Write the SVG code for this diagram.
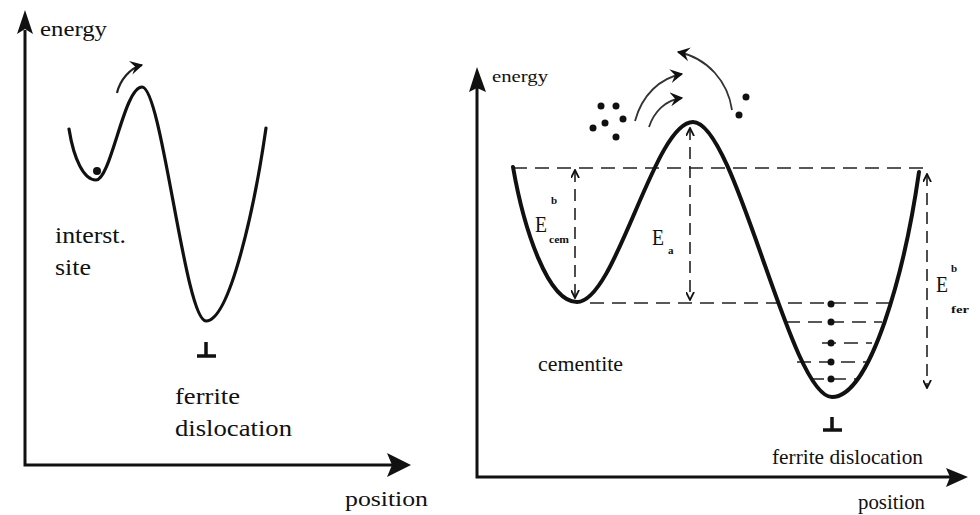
<svg xmlns="http://www.w3.org/2000/svg" width="980" height="515" viewBox="0 0 980 515">
<style>
.t{font-family:Liberation Serif, DejaVu Serif, serif;fill:#111}
.axis{stroke:#111;stroke-width:3;fill:none}
.head{fill:#111}
.curveL{stroke:#111;stroke-width:3.2;fill:none;stroke-linecap:round}
.curveR{stroke:#111;stroke-width:4;fill:none;stroke-linecap:round}
.dash{stroke:#222;stroke-width:1.6;fill:none;stroke-dasharray:14 8}
.dashv{stroke:#222;stroke-width:1.6;fill:none;stroke-dasharray:12 7;marker-start:url(#vee);marker-end:url(#vee)}
.jump{stroke:#333;stroke-width:1.8;fill:none;marker-end:url(#chev)}
.dot{fill:#111}
</style>
<defs>
<marker id="vee" viewBox="0 0 10 10" refX="9" refY="5" markerWidth="9" markerHeight="9" markerUnits="userSpaceOnUse" orient="auto-start-reverse">
<path d="M0,0.5 L9,5 L0,9.5" fill="none" stroke="#111" stroke-width="2"/>
</marker>
<marker id="chev" viewBox="0 0 12 12" refX="10" refY="6" markerWidth="14" markerHeight="14" markerUnits="userSpaceOnUse" orient="auto">
<path d="M0,0 L11,6 L0,12 L4,6 z" fill="#111"/>
</marker>
</defs>

<g id="left-panel">
<g id="left-axes">
<path class="axis" d="M25,30 V465 H392"/>
<polygon class="head" points="25,10 17,34 25,29 33,34"/>
<polygon class="head" points="411,465 387,453 392,465 387,477"/>
<text class="t" font-family="Liberation Serif, serif" x="40" y="36" font-size="22" textLength="67" lengthAdjust="spacingAndGlyphs">energy</text>
<text class="t" font-family="Liberation Serif, serif" x="345" y="506" font-size="22" textLength="83" lengthAdjust="spacingAndGlyphs">position</text>
</g>
<g id="left-curve">
<path class="curveL" d="M69,129 C74,160 84,180 96,180 C111,180 124,87 142,87 C162,87 185,321 206,321 C230,321 255,205 266,128"/>
<circle class="dot" cx="97" cy="171" r="4"/>
</g>
<g id="left-jump">
<path d="M117,93 C120,80 130,68 142,65" stroke="#222" stroke-width="2.2" fill="none" marker-end="url(#chev)"/>
</g>
<g id="left-labels">
<text class="t" font-family="Liberation Serif, serif" x="55" y="243" font-size="24" textLength="71" lengthAdjust="spacingAndGlyphs">interst.</text>
<text class="t" font-family="Liberation Serif, serif" x="55" y="275" font-size="24" textLength="36" lengthAdjust="spacingAndGlyphs">site</text>
<g id="left-dislocation">
<path d="M206,342 V356 M197,356 H216" stroke="#111" stroke-width="3.5" fill="none"/>
</g>
<text class="t" font-family="Liberation Serif, serif" x="175" y="404" font-size="24" textLength="65" lengthAdjust="spacingAndGlyphs">ferrite</text>
<text class="t" font-family="Liberation Serif, serif" x="175" y="436" font-size="24" textLength="117" lengthAdjust="spacingAndGlyphs">dislocation</text>
</g>
</g>

<g id="right-panel">
<g id="right-axes">
<path class="axis" d="M477,88 V477 H950"/>
<polygon class="head" points="477,67 469,92 477,88 486,92"/>
<polygon class="head" points="968,477 946,468 950,477 946,487"/>
<text class="t" font-family="Liberation Serif, serif" x="492" y="82" font-size="17" textLength="56" lengthAdjust="spacingAndGlyphs">energy</text>
<text class="t" font-family="Liberation Serif, serif" x="858" y="509" font-size="21" textLength="67" lengthAdjust="spacingAndGlyphs">position</text>
</g>
<g id="connectors">
<path class="dash" d="M513,168 H930"/>
<path class="dash" d="M590,303 H893"/>
<path class="dash" d="M786,322 H882"/>
<path class="dash" d="M822,343 H872"/>
<path class="dash" d="M797,362 H866"/>
<path class="dash" d="M810,379 H857"/>
<path class="dashv" d="M575,170 V298"/>
<path class="dashv" d="M690,128 V300"/>
<path class="dashv" d="M927,174 V388"/>
<path class="jump" d="M635,121 C642,95 660,78 682,74"/>
<path class="jump" d="M649,127 C654,112 665,100 682,98"/>
<path class="jump" d="M732,110 C728,82 708,58 678,52"/>
</g>
<g id="right-curve">
<path class="curveR" d="M513,167 C524,230 548,302 577,302 C616,302 654,122 693,122 C736,122 790,397 832,397 C871,397 905,270 919,172"/>
</g>
<g id="particles">
<circle class="dot" cx="601" cy="106" r="3.5"/>
<circle class="dot" cx="616" cy="106" r="3.5"/>
<circle class="dot" cx="605" cy="123" r="3.5"/>
<circle class="dot" cx="623" cy="119" r="3.5"/>
<circle class="dot" cx="593" cy="128" r="3.5"/>
<circle class="dot" cx="616" cy="137" r="3.5"/>
<circle class="dot" cx="746" cy="97" r="3.5"/>
<circle class="dot" cx="739" cy="115" r="3.5"/>
<circle class="dot" cx="831" cy="304" r="3.5"/>
<circle class="dot" cx="831" cy="322" r="3.5"/>
<circle class="dot" cx="831" cy="343" r="3.5"/>
<circle class="dot" cx="831" cy="362" r="3.5"/>
<circle class="dot" cx="831" cy="379" r="3.5"/>
</g>
<g id="energy-labels">
<text class="t" font-family="Liberation Serif, serif" x="535" y="232" font-size="24" textLength="12" lengthAdjust="spacingAndGlyphs">E</text>
<text class="t" font-family="Liberation Serif, serif" x="551" y="204" font-size="11" font-weight="bold">b</text>
<text class="t" font-family="Liberation Serif, serif" x="549" y="243" font-size="10" font-weight="bold" textLength="20" lengthAdjust="spacingAndGlyphs">cem</text>
<text class="t" font-family="Liberation Serif, serif" x="652" y="245" font-size="24" textLength="12" lengthAdjust="spacingAndGlyphs">E</text>
<text class="t" font-family="Liberation Serif, serif" x="668" y="254" font-size="11" font-weight="bold">a</text>
<text class="t" font-family="Liberation Serif, serif" x="936" y="292" font-size="24" textLength="12" lengthAdjust="spacingAndGlyphs">E</text>
<text class="t" font-family="Liberation Serif, serif" x="951" y="272" font-size="11" font-weight="bold">b</text>
<text class="t" font-family="Liberation Serif, serif" x="951" y="313" font-size="10" font-weight="bold" textLength="18" lengthAdjust="spacingAndGlyphs">fer</text>
</g>
<g id="right-labels">
<text class="t" font-family="Liberation Serif, serif" x="538" y="371" font-size="20" textLength="85" lengthAdjust="spacingAndGlyphs">cementite</text>
<g id="right-dislocation">
<path d="M832,417 V430 M823,430 H842" stroke="#111" stroke-width="3.5" fill="none"/>
</g>
<text class="t" font-family="Liberation Serif, serif" x="772" y="464" font-size="21" textLength="151" lengthAdjust="spacingAndGlyphs">ferrite dislocation</text>
</g>
</g>
</svg>
